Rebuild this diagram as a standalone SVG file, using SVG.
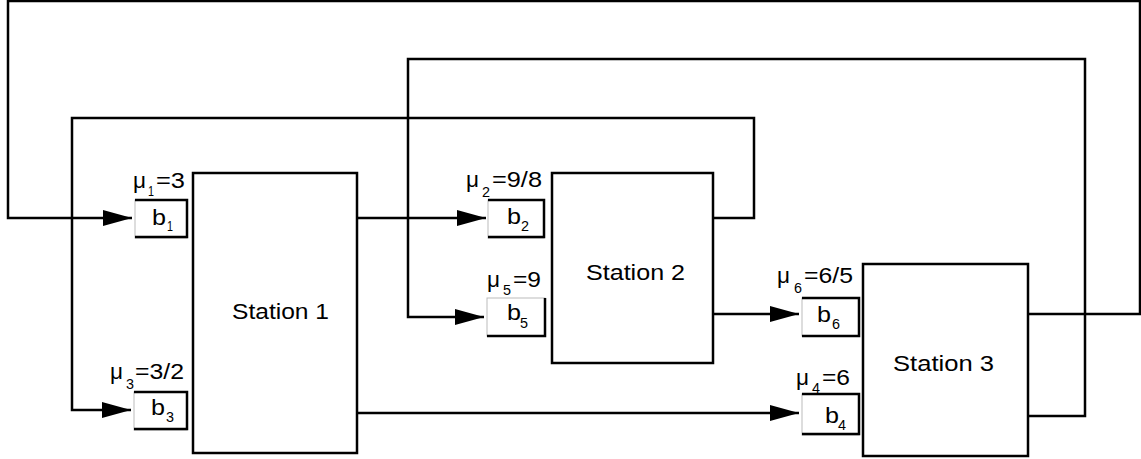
<svg xmlns="http://www.w3.org/2000/svg" width="1141" height="459" viewBox="0 0 1141 459">
<style>
.st{fill:#fff;stroke:#000;stroke-width:2.5}
.ln{fill:none;stroke:#000;stroke-width:2.5}
.bx{fill:#fff;stroke:#bbb;stroke-width:1}
.bk{fill:none;stroke:#000;stroke-width:2.5}
text{font-family:"Liberation Sans",Arial,sans-serif;fill:#000}
.lb{font-size:22px}
.bb{font-size:22px}
.sub{font-size:14px}
.sn{font-size:22px}
</style>
<defs>
<marker id="ah" markerUnits="userSpaceOnUse" markerWidth="30" markerHeight="18" refX="29" refY="8" orient="auto">
<path d="M0,0 L29,8 L0,16 Z" fill="#000"/>
</marker>
</defs>
<g id="connectors">
<polyline class="ln" points="1028,314 1140,314 1140,1 8,1 8,218 132,218" marker-end="url(#ah)"/>
<polyline class="ln" points="1028,416 1085,416 1085,59 408,59 408,317 484,317" marker-end="url(#ah)"/>
<polyline class="ln" points="713,218 754,218 754,118 72,118 72,410 131,410" marker-end="url(#ah)"/>
<polyline class="ln" points="357,218 486,218" marker-end="url(#ah)"/>
<polyline class="ln" points="357,413 799,413" marker-end="url(#ah)"/>
<polyline class="ln" points="713,314 799,314" marker-end="url(#ah)"/>
</g>
<g id="station1"><rect class="st" x="193" y="173" width="164" height="280"/><text class="sn" x="232" y="319" textLength="97" lengthAdjust="spacingAndGlyphs">Station 1</text></g>
<g id="station2"><rect class="st" x="552" y="173" width="161" height="190"/><text class="sn" x="586" y="280" textLength="99" lengthAdjust="spacingAndGlyphs">Station 2</text></g>
<g id="station3"><rect class="st" x="863" y="264" width="165" height="192"/><text class="sn" x="893" y="371" textLength="101" lengthAdjust="spacingAndGlyphs">Station 3</text></g>
<g id="b1"><rect class="bx" x="135" y="200" width="52" height="38"/><polyline class="bk" points="135,200 187,200 187,237 135,237"/>
<text class="bb" x="152" y="225" textLength="14" lengthAdjust="spacingAndGlyphs">b</text><text class="sub" x="167" y="231" textLength="6" lengthAdjust="spacingAndGlyphs">1</text>
<text class="lb" x="133" y="188" textLength="13" lengthAdjust="spacingAndGlyphs">μ</text><text class="sub" x="148" y="196" textLength="6" lengthAdjust="spacingAndGlyphs">1</text><text class="lb" x="156" y="188" textLength="29" lengthAdjust="spacingAndGlyphs">=3</text></g>
<g id="b3"><rect class="bx" x="134" y="392" width="53" height="38"/><polyline class="bk" points="134,392 187,392 187,429 134,429"/>
<text class="bb" x="151" y="415" textLength="14" lengthAdjust="spacingAndGlyphs">b</text><text class="sub" x="166" y="422" textLength="8" lengthAdjust="spacingAndGlyphs">3</text>
<text class="lb" x="110" y="379" textLength="13" lengthAdjust="spacingAndGlyphs">μ</text><text class="sub" x="126" y="389" textLength="8" lengthAdjust="spacingAndGlyphs">3</text><text class="lb" x="135" y="379" textLength="49" lengthAdjust="spacingAndGlyphs">=3/2</text></g>
<g id="b2"><rect class="bx" x="488" y="200" width="56" height="38"/><polyline class="bk" points="488,200 544,200 544,237 488,237"/>
<text class="bb" x="507" y="224" textLength="14" lengthAdjust="spacingAndGlyphs">b</text><text class="sub" x="521" y="231" textLength="8" lengthAdjust="spacingAndGlyphs">2</text>
<text class="lb" x="466" y="187" textLength="13" lengthAdjust="spacingAndGlyphs">μ</text><text class="sub" x="482" y="197" textLength="8" lengthAdjust="spacingAndGlyphs">2</text><text class="lb" x="492" y="187" textLength="50" lengthAdjust="spacingAndGlyphs">=9/8</text></g>
<g id="b5"><rect class="bx" x="487" y="298" width="58" height="38"/><polyline class="bk" points="545,298 545,336 487,336"/>
<text class="bb" x="507" y="320" textLength="14" lengthAdjust="spacingAndGlyphs">b</text><text class="sub" x="520" y="328" textLength="8" lengthAdjust="spacingAndGlyphs">5</text>
<text class="lb" x="487" y="287" textLength="13" lengthAdjust="spacingAndGlyphs">μ</text><text class="sub" x="503" y="295" textLength="8" lengthAdjust="spacingAndGlyphs">5</text><text class="lb" x="513" y="287" textLength="28" lengthAdjust="spacingAndGlyphs">=9</text></g>
<g id="b6"><rect class="bx" x="802" y="298" width="57" height="38"/><polyline class="bk" points="802,298 859,298 859,336 802,336"/>
<text class="bb" x="817" y="322" textLength="14" lengthAdjust="spacingAndGlyphs">b</text><text class="sub" x="832" y="329" textLength="8" lengthAdjust="spacingAndGlyphs">6</text>
<text class="lb" x="777" y="283" textLength="13" lengthAdjust="spacingAndGlyphs">μ</text><text class="sub" x="794" y="293" textLength="8" lengthAdjust="spacingAndGlyphs">6</text><text class="lb" x="804" y="283" textLength="49" lengthAdjust="spacingAndGlyphs">=6/5</text></g>
<g id="b4"><rect class="bx" x="802" y="394" width="57" height="41"/><polyline class="bk" points="802,394 859,394 859,434 802,434"/>
<text class="bb" x="825" y="423" textLength="14" lengthAdjust="spacingAndGlyphs">b</text><text class="sub" x="838" y="430" textLength="8" lengthAdjust="spacingAndGlyphs">4</text>
<text class="lb" x="796" y="385" textLength="13" lengthAdjust="spacingAndGlyphs">μ</text><text class="sub" x="812" y="393" textLength="8" lengthAdjust="spacingAndGlyphs">4</text><text class="lb" x="822" y="385" textLength="28" lengthAdjust="spacingAndGlyphs">=6</text></g>
</svg>
